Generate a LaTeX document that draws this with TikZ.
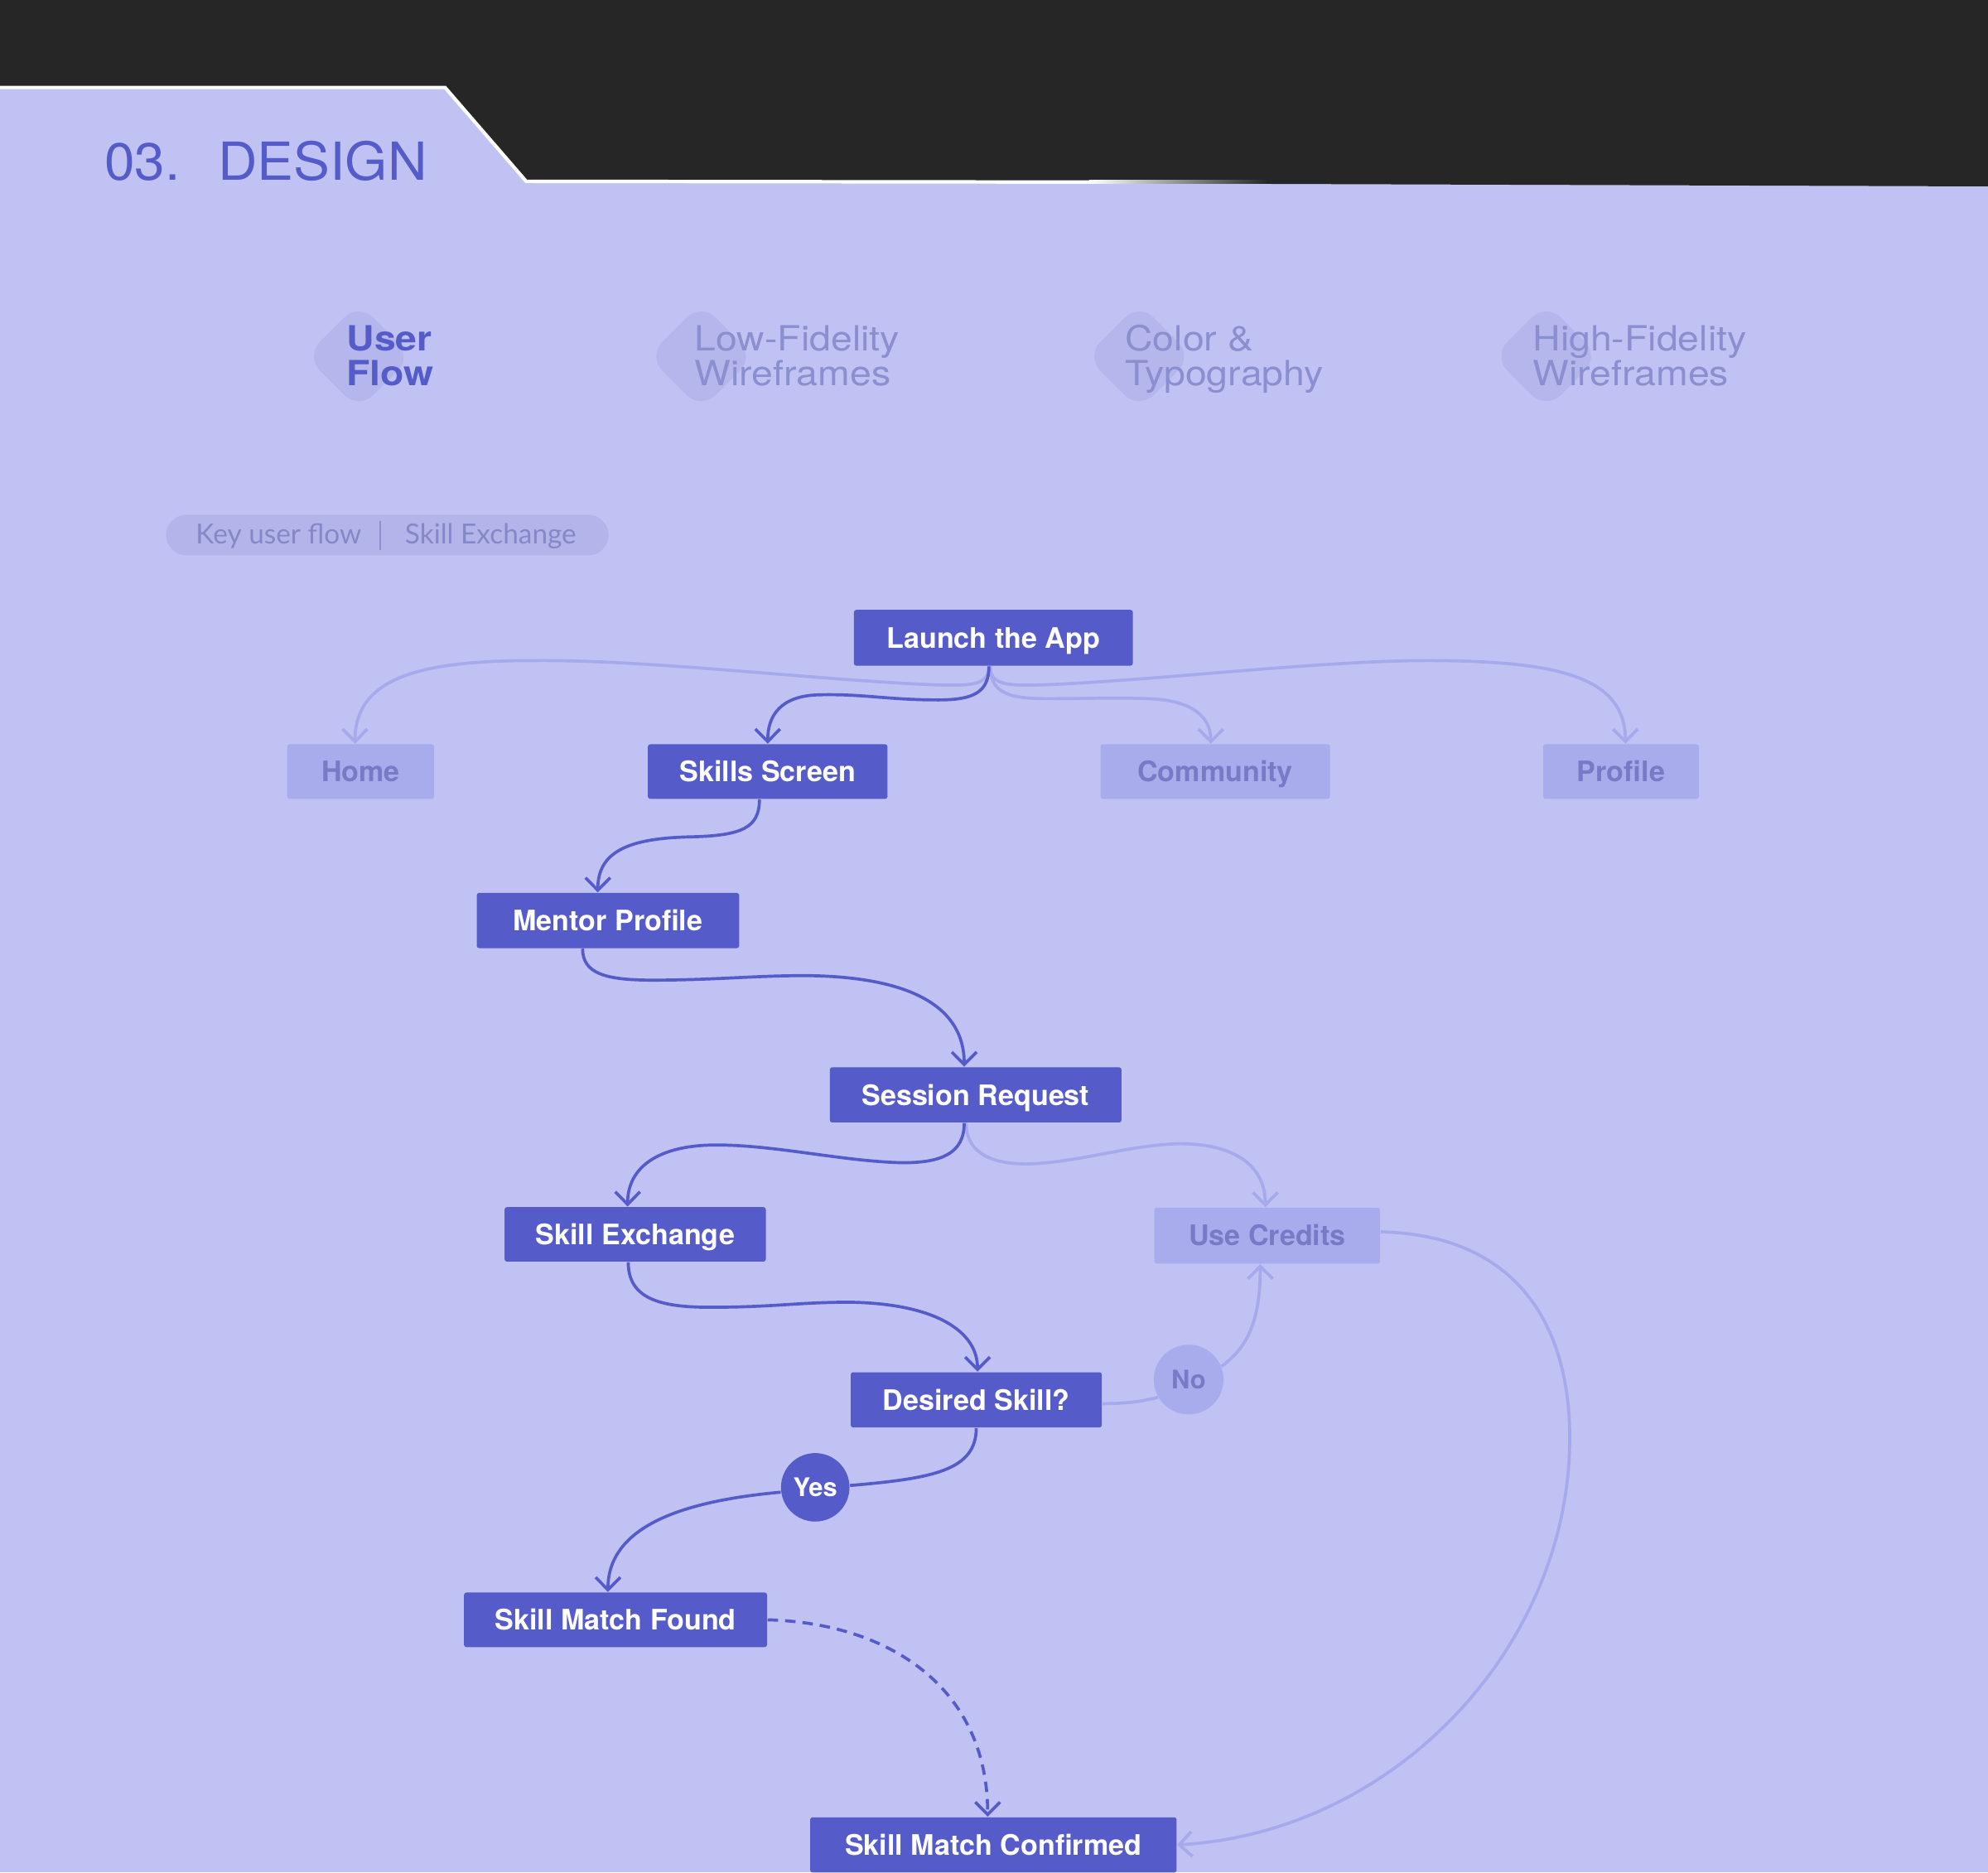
\documentclass[tikz,border=0pt]{standalone}
\usepackage{fontspec}
\setmainfont{TeX Gyre Heros}
\newfontfamily\pillfont{Lato}
\newfontfamily\tabfont{TeX Gyre Heros}[FakeStretch=1.11]
\newfontfamily\titlefont{TeX Gyre Heros}[FakeStretch=1.04]
\usetikzlibrary{arrows.meta,calc}
\definecolor{bg}{HTML}{C0C2F3}
\definecolor{band}{HTML}{262626}
\definecolor{ink}{HTML}{555BC9}
\definecolor{fade}{HTML}{A9ACEC}
\definecolor{fadetext}{HTML}{777BC6}
\definecolor{tabtext}{HTML}{8B8ECF}
\definecolor{tabshape}{HTML}{B5B7EC}
\definecolor{pill}{HTML}{B3B5EA}
\definecolor{pilltext}{HTML}{8588C6}
\definecolor{lightline}{HTML}{A6A9EB}
\begin{document}
\begin{tikzpicture}[x=0.0153061cm,y=-0.0153061cm,
  sz/.style 2 args={minimum width=#1*0.0153061cm, minimum height=#2*0.0153061cm},
  box/.style={rectangle, rounded corners=0.8pt, inner sep=0pt, text height=7pt, text depth=0pt,
    font=\fontsize{9.7pt}{11pt}\selectfont\bfseries},
  mainbox/.style={box, fill=ink, text=white},
  fadebox/.style={box, fill=fade, text=fadetext},
  badge/.style={circle, inner sep=0pt, text height=6.2pt, text depth=0pt,
    font=\fontsize{8.8pt}{10pt}\selectfont\bfseries, minimum size=54*0.0153061cm},
  darkline/.style={draw=ink, line width=1.05pt},
  lightline/.style={draw=lightline, line width=1.05pt},
  arr/.style={-{Straight Barb[length=4.3pt,width=8.5pt]}},
  tabon/.style={anchor=base west, inner sep=0pt, text=ink, font=\tabfont\fontsize{11.9pt}{12pt}\selectfont\bfseries},
  taboff/.style={anchor=base west, inner sep=0pt, text=tabtext, font=\tabfont\fontsize{11.9pt}{12pt}\selectfont},
  tabmark/.style={fill=tabshape, rounded corners=7pt},
  pilltxt/.style={anchor=base west, inner sep=0pt, text=pilltext, font=\pillfont\fontsize{9.5pt}{11pt}\selectfont}
]
\useasboundingbox (0,0) rectangle (1568,1476.6);
\fill[bg] (0,0) rectangle (1568,1476.6);

% header band
\fill[band] (0,0) -- (1568,0) -- (1568,147) -- (415,143) -- (351,69) -- (0,69) -- cycle;
\draw[white, line width=1.2pt, line join=miter] (0,69) -- (351,69) -- (415,143) -- (860,143.6);
\shade[left color=white, right color=band] (859,142.4) rectangle (1000,144.9);
\node[anchor=base west, inner sep=0pt, text=ink, font=\titlefont\fontsize{18pt}{20pt}\selectfont] (title) at (82,142) {03.\hspace{13pt}DESIGN};

% tabs
\fill[tabmark] (283,239) -- (325,281) -- (283,323) -- (241,281) -- cycle;
\fill[tabmark] (553,239) -- (595,281) -- (553,323) -- (511,281) -- cycle;
\fill[tabmark] (898.5,239) -- (940.5,281) -- (898.5,323) -- (856.5,281) -- cycle;
\fill[tabmark] (1219.5,239) -- (1261.5,281) -- (1219.5,323) -- (1177.5,281) -- cycle;
\node[tabon] (t1a) at (273,277) {User};
\node[tabon] (t1b) at (273,304) {Flow};
\node[taboff] (t2a) at (547.5,277) {Low-Fidelity};
\node[taboff] (t2b) at (547.5,304) {Wireframes};
\node[taboff] (t3a) at (887,277) {Color \&};
\node[taboff] (t3b) at (887,304) {Typography};
\node[taboff] (t4a) at (1208.5,277) {High-Fidelity};
\node[taboff] (t4b) at (1208.5,304) {Wireframes};

% pill
\fill[pill, rounded corners=7pt] (131,406) rectangle (480,438);
\node[pilltxt] (p1) at (154,429) {Key user flow};
\draw[pilltext!80!pill, line width=0.5pt] (300,411) -- (300,434);
\node[pilltxt] (p2) at (319,429) {Skill Exchange};

% nodes
\node[mainbox, sz={220}{44}] (launch) at (783.5,503) {Launch the App};
\node[fadebox, sz={116}{43}] (home) at (284.5,608.5) {Home};
\node[mainbox, sz={189}{43}] (skills) at (605.5,608.5) {Skills Screen};
\node[fadebox, sz={181}{43}] (community) at (958.5,608.5) {Community};
\node[fadebox, sz={123}{43}] (profile) at (1278.5,608.5) {Profile};
\node[mainbox, sz={207}{43.5}] (mentor) at (479.5,726) {Mentor Profile};
\node[mainbox, sz={230}{43.5}] (session) at (769.5,863.5) {Session Request};
\node[mainbox, sz={206}{43}] (skillex) at (501,973.5) {Skill Exchange};
\node[fadebox, sz={178}{44}] (credits) at (999.5,974.5) {Use Credits};
\node[mainbox, sz={198}{43.5}] (desired) at (770,1104) {Desired Skill?};
\node[mainbox, sz={239}{43}] (smf) at (485.5,1277.5) {Skill Match Found};
\node[mainbox, sz={289}{43.5}] (smc) at (783.5,1455) {Skill Match Confirmed};
\node[badge, fill=ink, text=white] (yes) at (643,1173) {Yes};
\node[badge, fill=fade, text=fadetext, minimum size=55*0.0153061cm] (no) at (937.5,1088) {No};

% light connectors
\draw[lightline, arr] ($(launch.south)+(-3.5,0)$) .. controls (780,541) and (765,541) .. (735,540)
  .. controls (640,536) and (510,520) .. (420,521)
  .. controls (330,521) and (280,535) .. ($(home.north)+(-4.5,0)$);
\draw[lightline, arr] ($(launch.south)+(-2.5,0)$) .. controls (781,541) and (796,541) .. (826,540)
  .. controls (920,536) and (1050,520) .. (1135,521)
  .. controls (1232,522) and (1282,535) .. ($(profile.north)+(3.5,0)$);
\draw[lightline, arr] ($(launch.south)+(-2.5,0)$) .. controls (781,546) and (795,551) .. (825,551)
  .. controls (860,551) and (880,550) .. (905,551)
  .. controls (940,552) and (955,565) .. ($(community.north)+(-3.5,0)$);
\draw[lightline, arr] ($(session.south)+(-7.5,0)$) .. controls (762,911) and (785,918) .. (810,918)
  .. controls (850,917) and (890,903) .. (930,902)
  .. controls (975,902) and (998,920) .. ($(credits.north)+(-1.5,0)$);
\draw[lightline] ($(desired.east)+(0,3)$) .. controls (890,1107) and (902,1105) .. (no.210);
\draw[lightline, arr] (no.22) .. controls (985,1062) and (994,1040) .. ($(credits.south)+(-5.5,0)$);
\draw[lightline, arr] ($(credits.east)+(0,-3)$) .. controls (1200,974) and (1240,1050) .. (1238,1140)
  .. controls (1235,1300) and (1100,1445) .. (smc.east);

% dark connectors
\draw[darkline, arr] ($(launch.south)+(-3.5,0)$) .. controls (780,546) and (768,552) .. (740,552)
  .. controls (700,552) and (680,547) .. (645,548)
  .. controls (615,549) and (605.5,565) .. (skills.north);
\draw[darkline, arr] ($(skills.south)+(-6.5,0)$) .. controls (599,653) and (585,659) .. (545,660)
  .. controls (495,661) and (471.5,672) .. ($(mentor.north)+(-8,0)$);
\draw[darkline, arr] ($(mentor.south)+(-20,0)$) .. controls (459.5,768) and (478,773) .. (515,773)
  .. controls (565,773) and (600,769) .. (640,769.5)
  .. controls (720,771) and (760.5,795) .. ($(session.north)+(-9,0)$);
\draw[darkline, arr] ($(session.south)+(-9,0)$) .. controls (760.5,910) and (742,917) .. (712,917)
  .. controls (665,916) and (612,903) .. (565,903)
  .. controls (520,903) and (495,920) .. ($(skillex.north)+(-6,0)$);
\draw[darkline, arr] ($(skillex.south)+(-5.5,0)$) .. controls (495.5,1024) and (520,1031) .. (560,1031)
  .. controls (610,1031) and (630,1027) .. (670,1027)
  .. controls (738,1028) and (771,1050) .. ($(desired.north)+(1,0)$);
\draw[darkline] (desired.south) .. controls (770,1160) and (735,1166) .. (yes.3);
\draw[darkline, arr] (yes.188) .. controls (548,1183) and (479.5,1200) .. ($(smf.north)+(-6,0)$);
\draw[darkline, arr, dash pattern=on 3.6pt off 2.4pt] (smf.east) .. controls (700,1280) and (779,1330) .. ($(smc.north)+(-4.5,0)$);
\end{tikzpicture}
\end{document}
